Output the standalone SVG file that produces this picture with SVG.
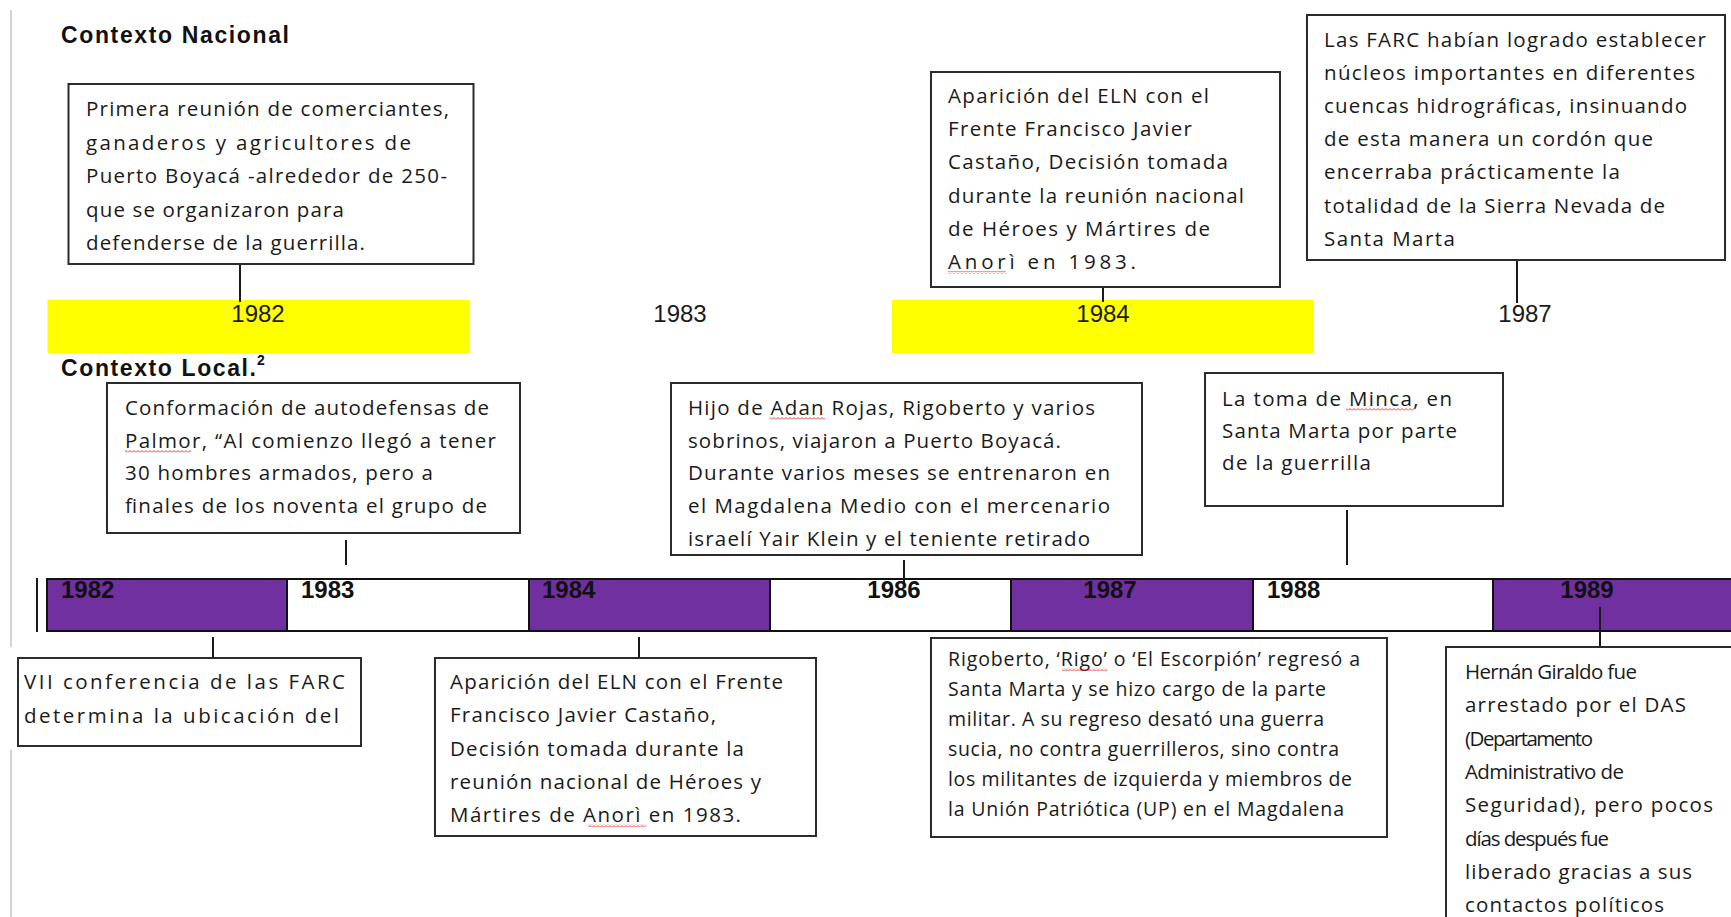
<svg xmlns="http://www.w3.org/2000/svg" width="1731" height="917" viewBox="0 0 1731 917">
<defs>
<pattern id="squiggle" patternUnits="userSpaceOnUse" width="4" height="3">
<polyline points="0,2.5 2,0.5 4,2.5" fill="none" stroke="#e02020" stroke-width="0.9"/>
</pattern>
<style>
.box{fill:#fff;stroke:#2b2b2b;stroke-width:2}
.t{font-family:"Open Sans",Lato,"Liberation Sans",sans-serif;font-size:20.5px;fill:#1a1a1a}
.ts{font-family:"Open Sans",Lato,"Liberation Sans",sans-serif;font-size:19.5px;fill:#1a1a1a}
.yr{font-family:"Liberation Sans",Arial,sans-serif;font-size:24px;fill:#1a1a1a;text-anchor:middle}
.yb{font-family:"Liberation Sans",Arial,sans-serif;font-size:24px;font-weight:bold;fill:#111}
.hd{font-family:"Liberation Sans",Arial,sans-serif;font-size:23px;font-weight:bold;fill:#111}
.conn{stroke:#1a1a1a;stroke-width:2;fill:none}
.band{fill:#ffff00}
.pur{fill:#7030a0;stroke:#111;stroke-width:2}
.wht{fill:#fff;stroke:#111;stroke-width:2}
.sq{fill:url(#squiggle)}
.edge{stroke:#d4d4d4;stroke-width:2}
</style>
</defs>
<rect width="1731" height="917" fill="#fff"/>
<line class="edge" x1="11" y1="10" x2="11" y2="647"/>
<line class="edge" x1="11" y1="750" x2="11" y2="917"/>

<g id="headings">
<text class="hd" x="61" y="43" textLength="228" lengthAdjust="spacing">Contexto Nacional</text>
<text class="hd" x="61" y="376" textLength="195" lengthAdjust="spacing">Contexto Local.</text>
<text class="hd" x="257" y="365" style="font-size:14px">2</text>
</g>

<g id="national-timeline">
<rect class="band" x="47.5" y="300" width="421.5" height="53"/>
<rect class="band" x="892" y="300" width="422" height="53"/>
<text class="yr" x="258" y="322">1982</text>
<text class="yr" x="680" y="322">1983</text>
<text class="yr" x="1103" y="322">1984</text>
<text class="yr" x="1525" y="322">1987</text>
</g>

<g id="local-timeline">
<line class="conn" x1="37" y1="578" x2="37" y2="632"/>
<rect class="pur" x="47" y="579" width="240" height="52"/>
<rect class="wht" x="287" y="579" width="242" height="52"/>
<rect class="pur" x="529" y="579" width="241" height="52"/>
<rect class="wht" x="770" y="579" width="241" height="52"/>
<rect class="pur" x="1011" y="579" width="242" height="52"/>
<rect class="wht" x="1253" y="579" width="240" height="52"/>
<rect class="pur" x="1493" y="579" width="260" height="52"/>
<text class="yb" x="61" y="598">1982</text>
<text class="yb" x="301" y="598">1983</text>
<text class="yb" x="542" y="598">1984</text>
<text class="yb" x="894" y="598" text-anchor="middle">1986</text>
<text class="yb" x="1110" y="598" text-anchor="middle">1987</text>
<text class="yb" x="1267" y="598">1988</text>
<text class="yb" x="1587" y="598" text-anchor="middle">1989</text>
</g>

<g id="connectors">
<line class="conn" x1="240" y1="264" x2="240" y2="302"/>
<line class="conn" x1="1103" y1="287" x2="1103" y2="302"/>
<line class="conn" x1="1517" y1="260" x2="1517" y2="303"/>
<line class="conn" x1="346" y1="540" x2="346" y2="565"/>
<line class="conn" x1="904" y1="560" x2="904" y2="583"/>
<line class="conn" x1="1347" y1="510" x2="1347" y2="565"/>
<line class="conn" x1="213" y1="637" x2="213" y2="660"/>
<line class="conn" x1="639" y1="637" x2="639" y2="660"/>
<line class="conn" x1="1600" y1="607" x2="1600" y2="648"/>
</g>

<g id="node-a">
<rect class="box" x="68.5" y="84" width="405" height="180"/>
<text class="t" x="86" y="116" textLength="363" lengthAdjust="spacing">Primera reunión de comerciantes,</text>
<text class="t" x="86" y="149.5" textLength="325" lengthAdjust="spacing">ganaderos y agricultores de</text>
<text class="t" x="86" y="183" textLength="361" lengthAdjust="spacing">Puerto Boyacá -alrededor de 250-</text>
<text class="t" x="86" y="216.5" textLength="258" lengthAdjust="spacing">que se organizaron para</text>
<text class="t" x="86" y="250" textLength="279" lengthAdjust="spacing">defenderse de la guerrilla.</text>
</g>

<g id="node-b">
<rect class="box" x="931" y="72" width="349" height="215"/>
<text class="t" x="948" y="103" textLength="261" lengthAdjust="spacing">Aparición del ELN con el</text>
<text class="t" x="948" y="136.2" textLength="244" lengthAdjust="spacing">Frente Francisco Javier</text>
<text class="t" x="948" y="169.4" textLength="280" lengthAdjust="spacing">Castaño,  Decisión tomada</text>
<text class="t" x="948" y="202.6" textLength="296" lengthAdjust="spacing">durante la reunión nacional</text>
<text class="t" x="948" y="235.8" textLength="262" lengthAdjust="spacing">de Héroes y Mártires de</text>
<text class="t" x="948" y="269" textLength="188" lengthAdjust="spacing">Anorì en 1983.</text>
<rect class="sq" x="948" y="271" width="58" height="3"/>
</g>

<g id="node-c">
<rect class="box" x="1307" y="15" width="418" height="245"/>
<text class="t" x="1324" y="46.5" textLength="382" lengthAdjust="spacing">Las FARC habían logrado establecer</text>
<text class="t" x="1324" y="79.7" textLength="371" lengthAdjust="spacing">núcleos importantes en diferentes</text>
<text class="t" x="1324" y="112.9" textLength="363" lengthAdjust="spacing">cuencas hidrográficas, insinuando</text>
<text class="t" x="1324" y="146.1" textLength="329" lengthAdjust="spacing">de esta manera un cordón que</text>
<text class="t" x="1324" y="179.3" textLength="296" lengthAdjust="spacing">encerraba prácticamente la</text>
<text class="t" x="1324" y="212.5" textLength="341" lengthAdjust="spacing">totalidad de la Sierra Nevada de</text>
<text class="t" x="1324" y="245.7" textLength="131" lengthAdjust="spacing">Santa Marta</text>
</g>

<g id="node-d">
<rect class="box" x="107" y="383" width="413" height="150"/>
<text class="t" x="125" y="415" textLength="364" lengthAdjust="spacing">Conformación de autodefensas de</text>
<text class="t" x="125" y="447.7" textLength="371" lengthAdjust="spacing">Palmor, “Al comienzo llegó a tener</text>
<text class="t" x="125" y="480.3" textLength="308" lengthAdjust="spacing">30 hombres armados, pero a</text>
<text class="t" x="125" y="513" textLength="362" lengthAdjust="spacing">finales de los noventa el grupo de</text>
<rect class="sq" x="125" y="450" width="66" height="3"/>
</g>

<g id="node-e">
<rect class="box" x="671" y="383" width="471" height="172"/>
<text class="t" x="688" y="415" textLength="407" lengthAdjust="spacing">Hijo de Adan Rojas, Rigoberto y varios</text>
<text class="t" x="688" y="447.7" textLength="373" lengthAdjust="spacing">sobrinos, viajaron a Puerto Boyacá.</text>
<text class="t" x="688" y="480.3" textLength="422" lengthAdjust="spacing">Durante varios meses se entrenaron en</text>
<text class="t" x="688" y="513" textLength="422" lengthAdjust="spacing">el Magdalena Medio con el mercenario</text>
<text class="t" x="688" y="545.7" textLength="402" lengthAdjust="spacing">israelí Yair Klein y el teniente retirado</text>
<rect class="sq" x="770" y="417" width="55" height="3"/>
</g>

<g id="node-f">
<rect class="box" x="1205" y="373" width="298" height="133"/>
<text class="t" x="1222" y="406" textLength="230" lengthAdjust="spacing">La toma de Minca, en</text>
<text class="t" x="1222" y="438" textLength="235" lengthAdjust="spacing">Santa Marta por parte</text>
<text class="t" x="1222" y="470" textLength="149" lengthAdjust="spacing">de la guerrilla</text>
<rect class="sq" x="1346" y="408" width="68" height="3"/>
</g>

<g id="node-g">
<rect class="box" x="18" y="658" width="343" height="88"/>
<text class="t" x="24" y="689" textLength="321" lengthAdjust="spacing">VII conferencia de las FARC</text>
<text class="t" x="24" y="722.5" textLength="315" lengthAdjust="spacing">determina la ubicación del</text>
</g>

<g id="node-h">
<rect class="box" x="435" y="658" width="381" height="178"/>
<text class="t" x="450" y="689" textLength="333" lengthAdjust="spacing">Aparición del ELN con el Frente</text>
<text class="t" x="450" y="722.3" textLength="266" lengthAdjust="spacing">Francisco Javier Castaño,</text>
<text class="t" x="450" y="755.6" textLength="294" lengthAdjust="spacing">Decisión tomada durante la</text>
<text class="t" x="450" y="789" textLength="311" lengthAdjust="spacing">reunión nacional de Héroes y</text>
<text class="t" x="450" y="822.3" textLength="291" lengthAdjust="spacing">Mártires de Anorì en 1983.</text>
<rect class="sq" x="588" y="824" width="58" height="3"/>
</g>

<g id="node-i">
<rect class="box" x="931" y="638" width="456" height="199"/>
<text class="ts" x="948" y="666" textLength="412" lengthAdjust="spacing">Rigoberto, ‘Rigo’ o ‘El Escorpión’ regresó a</text>
<text class="ts" x="948" y="696" textLength="378" lengthAdjust="spacing">Santa Marta y se hizo cargo de la parte</text>
<text class="ts" x="948" y="726" textLength="376" lengthAdjust="spacing">militar. A su regreso desató una guerra</text>
<text class="ts" x="948" y="756" textLength="391" lengthAdjust="spacing">sucia, no contra guerrilleros, sino contra</text>
<text class="ts" x="948" y="786" textLength="404" lengthAdjust="spacing">los militantes de izquierda y miembros de</text>
<text class="ts" x="948" y="816" textLength="396" lengthAdjust="spacing">la Unión Patriótica (UP) en el Magdalena</text>
<rect class="sq" x="1062" y="668" width="45" height="3"/>
</g>

<g id="node-j">
<rect class="box" x="1446" y="647" width="300" height="300"/>
<text class="t" x="1465" y="679" textLength="172" lengthAdjust="spacing">Hernán Giraldo fue</text>
<text class="t" x="1465" y="712.3" textLength="221" lengthAdjust="spacing">arrestado por el DAS</text>
<text class="t" x="1465" y="745.6" textLength="128" lengthAdjust="spacing">(Departamento</text>
<text class="t" x="1465" y="779" textLength="159" lengthAdjust="spacing">Administrativo de</text>
<text class="t" x="1465" y="812.3" textLength="248" lengthAdjust="spacing">Seguridad), pero pocos</text>
<text class="t" x="1465" y="845.6" textLength="144" lengthAdjust="spacing">días después fue</text>
<text class="t" x="1465" y="879" textLength="227" lengthAdjust="spacing">liberado gracias a sus</text>
<text class="t" x="1465" y="912.3" textLength="199" lengthAdjust="spacing">contactos políticos</text>
</g>
</svg>
